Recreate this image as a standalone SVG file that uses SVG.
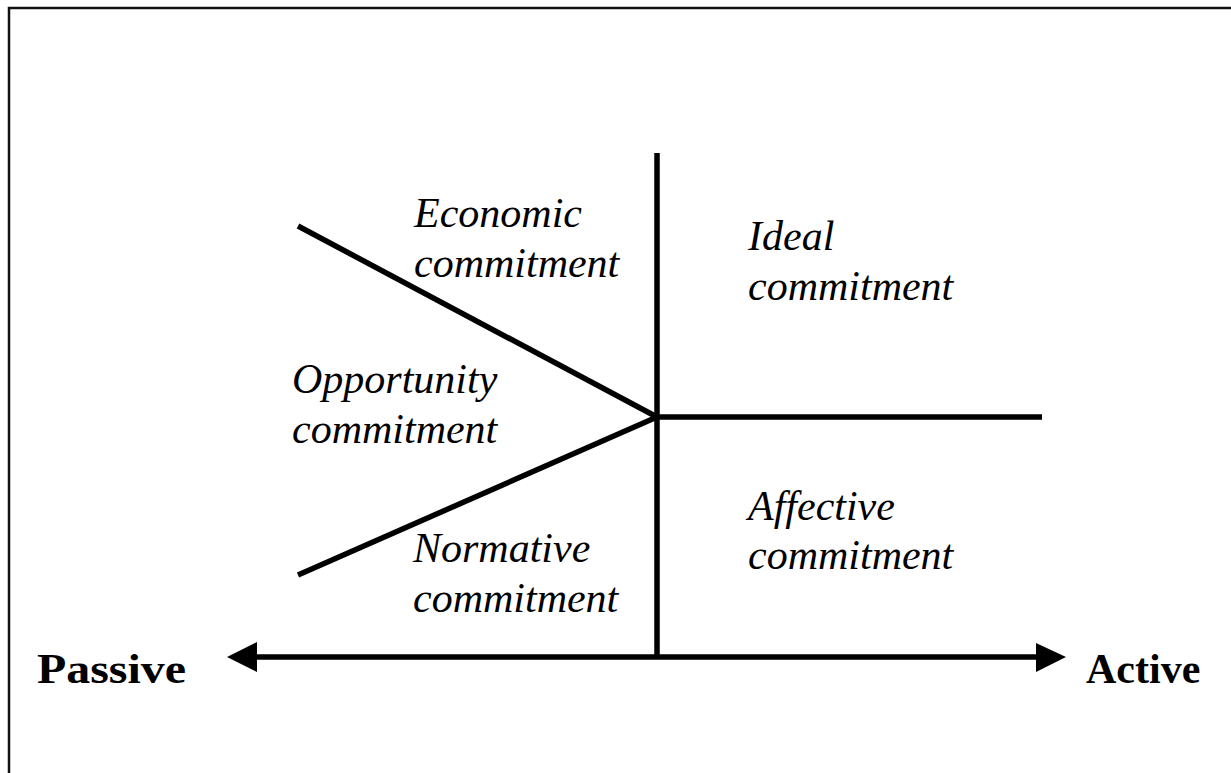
<svg xmlns="http://www.w3.org/2000/svg" width="1231" height="773" viewBox="0 0 1231 773">
  <style>
    .ln { stroke: #000; stroke-width: 5.5; fill: none; }
    .lbl { font-family: "Liberation Serif", "Times New Roman", serif; font-style: italic; font-size: 42px; fill: #000; }
    .ax { font-family: "Liberation Serif", "Times New Roman", serif; font-weight: bold; font-size: 42px; fill: #000; }
  </style>
  <rect width="1231" height="773" fill="#fff"/>
  <!-- frame (top and left edges) -->
  <path d="M9,773 V8 H1231" stroke="#111" stroke-width="2.5" fill="none"/>

  <g id="connectors">
    <line class="ln" x1="657" y1="153" x2="657" y2="657"/>
    <line class="ln" x1="657" y1="417" x2="1042" y2="417"/>
    <line class="ln" x1="298" y1="226" x2="657" y2="417"/>
    <line class="ln" x1="298" y1="575" x2="657" y2="417"/>
    <line class="ln" x1="255" y1="657" x2="1038" y2="657"/>
    <polygon points="227,657 257,642 257,672" fill="#000"/>
    <polygon points="1066,657 1036,643 1036,672" fill="#000"/>
  </g>

  <g id="economic"><text class="lbl" x="414" y="227">Economic</text><text class="lbl" x="414" y="277">commitment</text></g>
  <g id="ideal"><text class="lbl" x="748" y="250">Ideal</text><text class="lbl" x="748" y="300">commitment</text></g>
  <g id="opportunity"><text class="lbl" x="292" y="393">Opportunity</text><text class="lbl" x="292" y="443">commitment</text></g>
  <g id="normative"><text class="lbl" x="413" y="562">Normative</text><text class="lbl" x="413" y="612">commitment</text></g>
  <g id="affective"><text class="lbl" x="748" y="520">Affective</text><text class="lbl" x="748" y="569">commitment</text></g>
  <g id="passive"><text class="ax" x="37" y="683" textLength="149" lengthAdjust="spacingAndGlyphs">Passive</text></g>
  <g id="active"><text class="ax" x="1086" y="683">Active</text></g>
</svg>
